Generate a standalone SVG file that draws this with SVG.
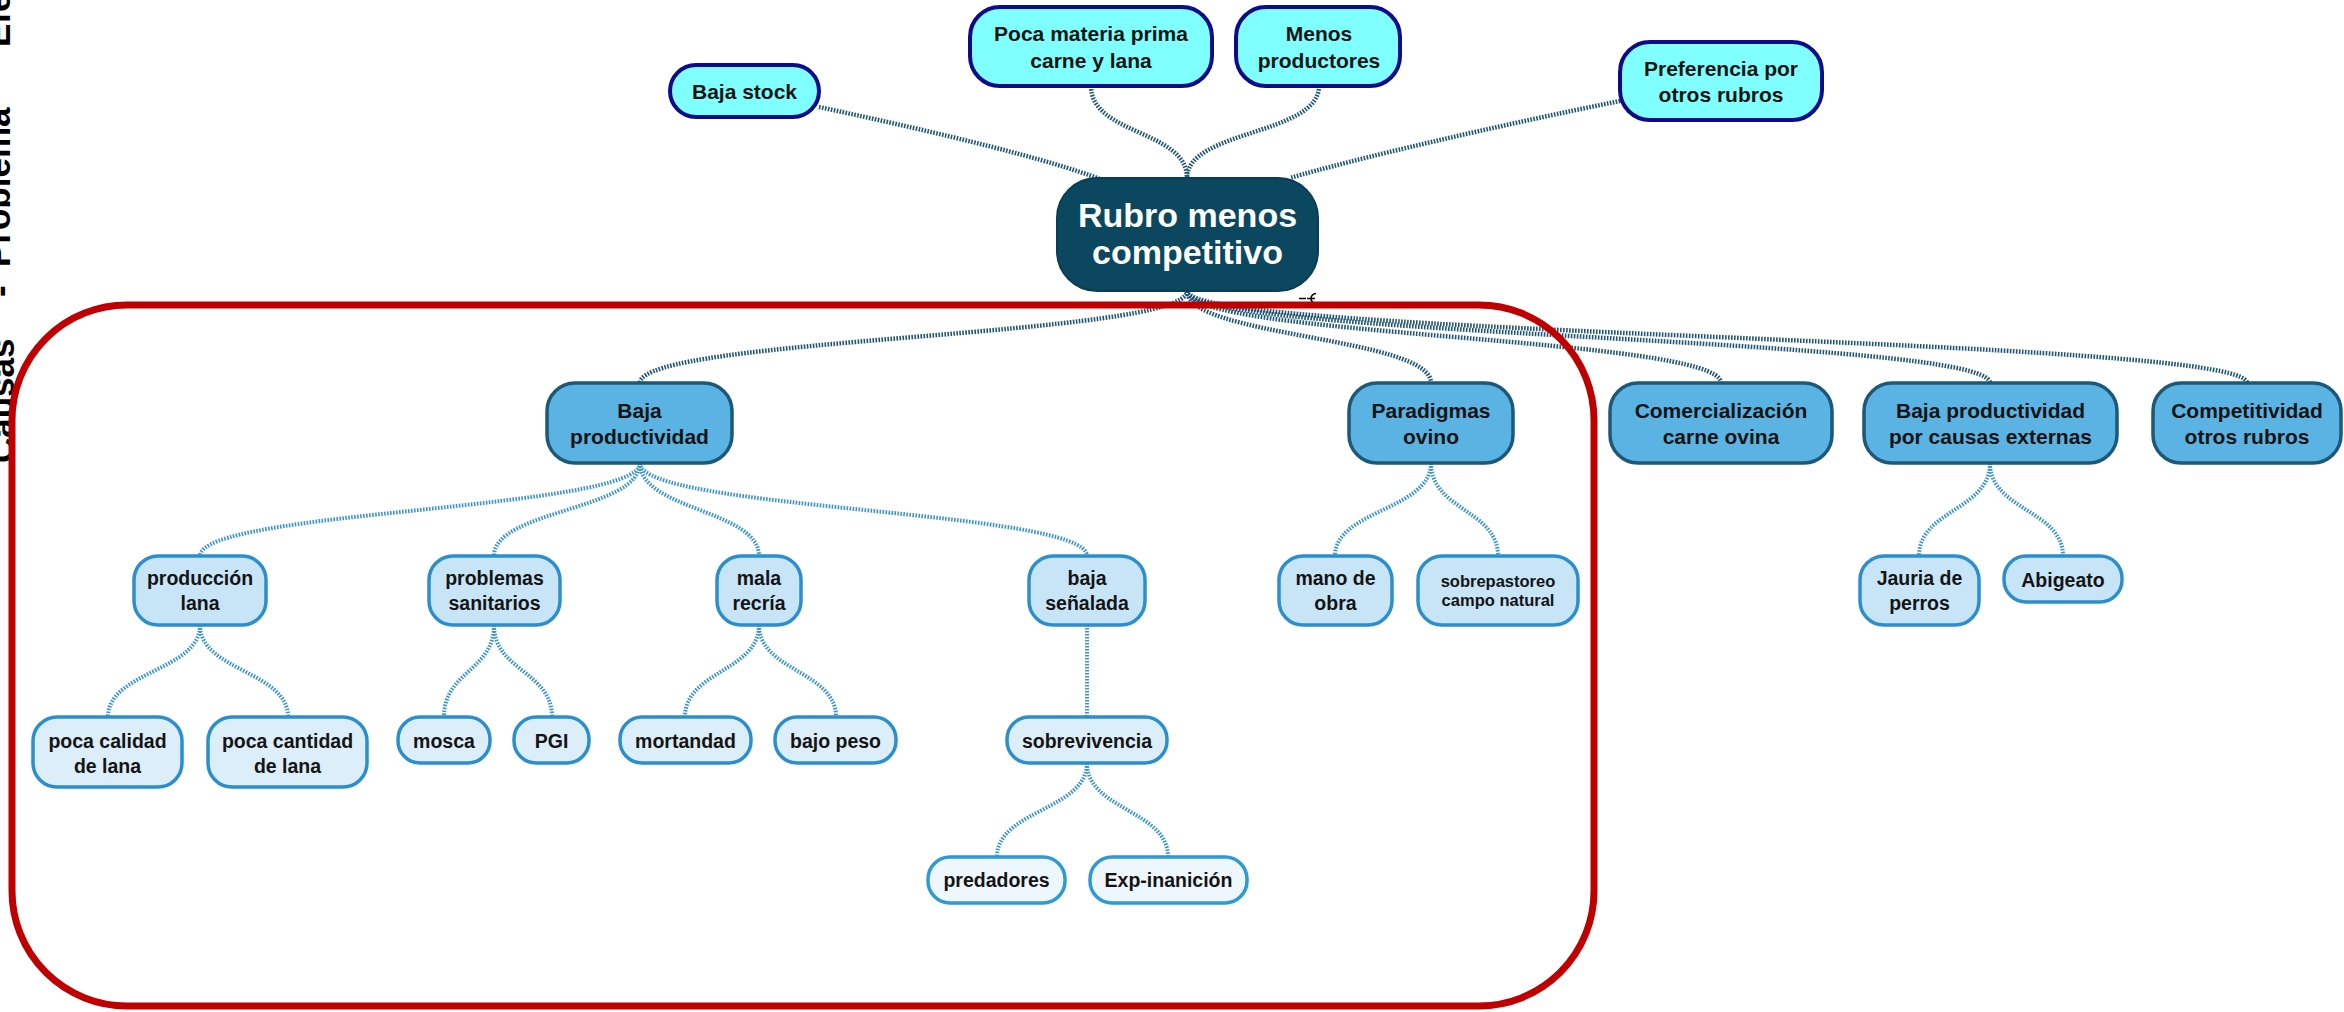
<svg xmlns="http://www.w3.org/2000/svg" width="2344" height="1012" viewBox="0 0 2344 1012">
<style>
.n text{font-family:"Liberation Sans",Arial,sans-serif;font-weight:bold;text-anchor:middle;fill:#141414;font-size:21px}
.t0 rect{fill:#0c4760;stroke:#0a3d55;stroke-width:2}
.t0 text{fill:#ffffff;font-size:34px}
.t1 rect{fill:#80ffff;stroke:#0b0b8c;stroke-width:4}
.t2 rect{fill:#5ab3e3;stroke:#1c5878;stroke-width:3.5}
.t3 rect{fill:#c8e5f8;stroke:#2b8fce;stroke-width:3.5}
.t3 text,.t4 text,.t5 text{font-size:19.5px}
.t4 rect{fill:#dceef9;stroke:#2b8fce;stroke-width:3.5}
.t5 rect{fill:#eef7fd;stroke:#2e9ad4;stroke-width:3.5}
.small{font-size:16.5px !important}
#connectors path{fill:none;stroke-dasharray:1.6 1.4}
.c1{stroke:#1f5675;stroke-width:4.5}
.c2{stroke:#3a94cf;stroke-width:4}
.side{font-family:"Liberation Sans",Arial,sans-serif;font-weight:bold;font-size:35px;fill:#000}
</style>
<rect x="0" y="0" width="2344" height="1012" fill="#ffffff"/>

<g id="sidelabel">
<text class="side" transform="translate(14,463) rotate(-90)">Causas</text>
<text class="side" transform="translate(12,297) rotate(-90)">-</text>
<text class="side" transform="translate(10,267) rotate(-90)">Problema</text>
<text class="side" transform="translate(10,47) rotate(-90)">Efecto</text>
</g>

<g id="connectors">
<path class="c1" d="M819,107 C950,135 1050,160 1100,179"/>
<path class="c1" d="M1091,86 C1091,135 1187,130 1187,178"/>
<path class="c1" d="M1319,86 C1319,135 1187,130 1187,178"/>
<path class="c1" d="M1620,101 C1500,125 1350,160 1290,178"/>
<path class="c1" d="M1187,291 C1187,337 640,337 640,383"/>
<path class="c1" d="M1187,291 C1187,337 1431,337 1431,383"/>
<path class="c1" d="M1187,291 C1187,337 1721,337 1721,383"/>
<path class="c1" d="M1187,291 C1187,337 1990,337 1990,383"/>
<path class="c1" d="M1187,291 C1187,337 2247,337 2247,383"/>
<path class="c2" d="M640,463 C640,510 200,510 200,556"/>
<path class="c2" d="M640,463 C640,510 494,510 494,556"/>
<path class="c2" d="M640,463 C640,510 759,510 759,556"/>
<path class="c2" d="M640,463 C640,510 1087,510 1087,556"/>
<path class="c2" d="M1431,463 C1431,510 1335,510 1335,556"/>
<path class="c2" d="M1431,463 C1431,510 1498,510 1498,556"/>
<path class="c2" d="M1990,463 C1990,510 1919,510 1919,556"/>
<path class="c2" d="M1990,463 C1990,510 2063,510 2063,556"/>
<path class="c2" d="M200,625 C200,671 108,671 108,717"/>
<path class="c2" d="M200,625 C200,671 288,671 288,717"/>
<path class="c2" d="M494,625 C494,671 444,671 444,717"/>
<path class="c2" d="M494,625 C494,671 552,671 552,717"/>
<path class="c2" d="M759,625 C759,671 685,671 685,717"/>
<path class="c2" d="M759,625 C759,671 836,671 836,717"/>
<path class="c2" d="M1087,625 L1087,717"/>
<path class="c2" d="M1087,763 C1087,810 997,810 997,857"/>
<path class="c2" d="M1087,763 C1087,810 1168,810 1168,857"/>
</g>

<g id="n_bajastock" class="n t1"><rect x="670" y="65" width="149" height="52" rx="26"/><text x="744.5" y="99">Baja stock</text></g>
<g id="n_poca" class="n t1"><rect x="970" y="7" width="242" height="79" rx="30"/><text x="1091" y="41">Poca materia prima</text><text x="1091" y="68">carne y lana</text></g>
<g id="n_menos" class="n t1"><rect x="1236" y="7" width="164" height="79" rx="30"/><text x="1319" y="41">Menos</text><text x="1319" y="68">productores</text></g>
<g id="n_pref" class="n t1"><rect x="1620" y="42" width="202" height="78" rx="30"/><text x="1721" y="76">Preferencia por</text><text x="1721" y="102">otros rubros</text></g>

<g id="n_root" class="n t0"><rect x="1057" y="178" width="261" height="113" rx="40"/><text x="1187.5" y="227">Rubro menos</text><text x="1187.5" y="264">competitivo</text></g>

<g id="n_bajaprod" class="n t2"><rect x="547" y="383" width="185" height="80" rx="28"/><text x="639.5" y="418">Baja</text><text x="639.5" y="444">productividad</text></g>
<g id="n_paradigmas" class="n t2"><rect x="1349" y="383" width="164" height="80" rx="28"/><text x="1431" y="418">Paradigmas</text><text x="1431" y="444">ovino</text></g>
<g id="n_comerc" class="n t2"><rect x="1610" y="383" width="222" height="80" rx="28"/><text x="1721" y="418">Comercialización</text><text x="1721" y="444">carne ovina</text></g>
<g id="n_bajaext" class="n t2"><rect x="1864" y="383" width="253" height="80" rx="28"/><text x="1990.5" y="418">Baja productividad</text><text x="1990.5" y="444">por causas externas</text></g>
<g id="n_compet" class="n t2"><rect x="2153" y="383" width="188" height="80" rx="28"/><text x="2247" y="418">Competitividad</text><text x="2247" y="444">otros rubros</text></g>

<g id="n_prodlana" class="n t3"><rect x="134" y="556" width="132" height="69" rx="24"/><text x="200" y="585">producción</text><text x="200" y="610">lana</text></g>
<g id="n_probsan" class="n t3"><rect x="429" y="556" width="131" height="69" rx="24"/><text x="494.5" y="585">problemas</text><text x="494.5" y="610">sanitarios</text></g>
<g id="n_malarecria" class="n t3"><rect x="717" y="556" width="84" height="69" rx="24"/><text x="759" y="585">mala</text><text x="759" y="610">recría</text></g>
<g id="n_bajasen" class="n t3"><rect x="1029" y="556" width="116" height="69" rx="24"/><text x="1087" y="585">baja</text><text x="1087" y="610">señalada</text></g>
<g id="n_manoobra" class="n t3"><rect x="1279" y="556" width="113" height="69" rx="24"/><text x="1335.5" y="585">mano de</text><text x="1335.5" y="610">obra</text></g>
<g id="n_sobrepast" class="n t3"><rect x="1418" y="556" width="160" height="69" rx="24"/><text class="small" x="1498" y="587">sobrepastoreo</text><text class="small" x="1498" y="606">campo natural</text></g>
<g id="n_jauria" class="n t3"><rect x="1860" y="556" width="119" height="69" rx="24"/><text x="1919.5" y="585">Jauria de</text><text x="1919.5" y="610">perros</text></g>
<g id="n_abigeato" class="n t3"><rect x="2004" y="556" width="118" height="46" rx="22"/><text x="2063" y="587">Abigeato</text></g>

<g id="n_pocacal" class="n t4"><rect x="33" y="717" width="149" height="70" rx="24"/><text x="107.5" y="748">poca calidad</text><text x="107.5" y="773">de lana</text></g>
<g id="n_pocacant" class="n t4"><rect x="208" y="717" width="159" height="70" rx="24"/><text x="287.5" y="748">poca cantidad</text><text x="287.5" y="773">de lana</text></g>
<g id="n_mosca" class="n t4"><rect x="398" y="717" width="92" height="46" rx="22"/><text x="444" y="748">mosca</text></g>
<g id="n_pgi" class="n t4"><rect x="514" y="717" width="75" height="46" rx="22"/><text x="551.5" y="748">PGI</text></g>
<g id="n_mortandad" class="n t4"><rect x="620" y="717" width="131" height="46" rx="22"/><text x="685.5" y="748">mortandad</text></g>
<g id="n_bajopeso" class="n t4"><rect x="775" y="717" width="121" height="46" rx="22"/><text x="835.5" y="748">bajo peso</text></g>
<g id="n_sobrev" class="n t4"><rect x="1007" y="717" width="160" height="46" rx="22"/><text x="1087" y="748">sobrevivencia</text></g>

<g id="n_pred" class="n t5"><rect x="928" y="857" width="137" height="46" rx="22"/><text x="996.5" y="887">predadores</text></g>
<g id="n_exp" class="n t5"><rect x="1090" y="857" width="157" height="46" rx="22"/><text x="1168.5" y="887">Exp-inanición</text></g>

<g id="handle"><path d="M1299,298.5 h7 M1316,293.5 a5,5 0 1 0 0,10 M1307,298.5 h8" stroke="#000" stroke-width="1.6" fill="none"/></g>

<g id="frame"><rect x="12" y="305" width="1582" height="701" rx="115" fill="none" stroke="#c00000" stroke-width="7"/></g>
</svg>
